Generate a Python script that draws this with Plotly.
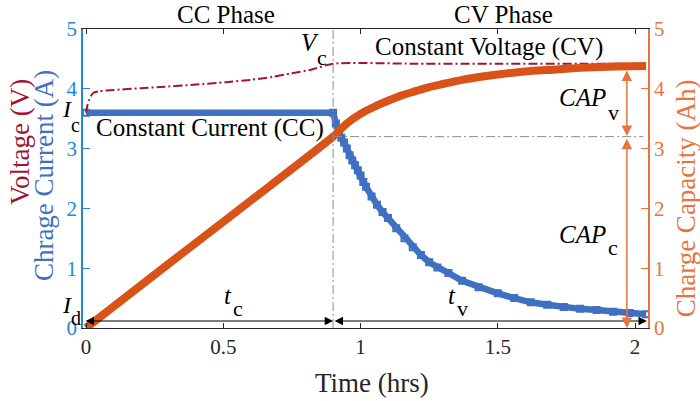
import plotly.graph_objects as go

# ---------------- data ----------------
t_current = [0.00, 0.90, 0.91, 0.92, 0.93, 0.94, 0.95, 0.96, 0.97, 0.98,
             0.99, 1.00, 1.01, 1.02, 1.04, 1.06, 1.08, 1.10, 1.13, 1.16, 1.19, 1.22,
             1.25, 1.28, 1.32, 1.37, 1.43, 1.50, 1.56, 1.62, 1.68, 1.74, 1.80, 1.86,
             1.92, 1.98, 2.04]
current = [3.60, 3.60, 3.42, 3.28, 3.18, 3.10, 3.00, 2.89, 2.80, 2.72,
           2.64, 2.55, 2.44, 2.36, 2.20, 2.06, 1.94, 1.84, 1.67, 1.50, 1.35, 1.22,
           1.10, 1.01, 0.92, 0.79, 0.68, 0.58, 0.50, 0.43, 0.39, 0.35, 0.32, 0.30,
           0.27, 0.25, 0.23]

t_capacity = [0.00, 0.30, 0.60, 0.90, 0.95, 1.00, 1.05, 1.10, 1.15, 1.20, 1.25, 1.30,
              1.37, 1.45, 1.50, 1.60, 1.70, 1.80, 1.90, 2.04]
capacity = [0.00, 1.07, 2.13, 3.20, 3.42, 3.58, 3.70, 3.80, 3.89, 3.96, 4.03, 4.08,
            4.15, 4.21, 4.24, 4.29, 4.32, 4.35, 4.37, 4.38]

t_voltage = [0.000, 0.005, 0.010, 0.018, 0.026, 0.05, 0.10, 0.20, 0.27, 0.40, 0.51,
             0.60, 0.68, 0.75, 0.82, 0.90, 1.20, 1.50, 1.80, 2.04]
voltage = [3.60, 3.72, 3.80, 3.88, 3.93, 3.96, 3.98, 4.01, 4.03, 4.07, 4.11,
           4.15, 4.20, 4.26, 4.32, 4.42, 4.42, 4.42, 4.42, 4.42]

t_switch = 0.9        # end of CC phase
cap_switch = 3.2      # capacity at end of CC phase
cap_end = 4.33        # top of CAP_v arrow
t_cap_arrow = 1.97
x_ticks = [0, 0.5, 1, 1.5, 2]
x_tick_text = ["0", "0.5", "1", "1.5", "2"]
y_ticks = [0, 1, 2, 3, 4, 5]

# ---------------- styles ----------------
FONT = "Liberation Serif, Times New Roman, serif"
BLUE_AX = "#2288D8"
BLUE = "#3F70C2"
ORANGE_AX = "#E8743B"
ORANGE = "#D95319"
RED = "#A2142F"
DARK = "#262626"
GREY = "#8C8C8C"
DASHDOT = "9px,3px,2px,3px"

X0, X1 = -0.011, 2.047
Y0, Y1 = 0, 5

def px(x):
    return (x - X0) / (X1 - X0)

def py(y):
    return (y - Y0) / (Y1 - Y0)

fig = go.Figure()

fig.add_trace(go.Scatter(
    x=t_current, y=current, mode="lines+markers",
    line=dict(color=BLUE, width=6.5),
    marker=dict(symbol="square-open", size=6, color=BLUE, line=dict(width=2, color=BLUE)),
    showlegend=False, yaxis="y"))

fig.add_trace(go.Scatter(
    x=t_voltage, y=voltage, mode="lines",
    line=dict(color=RED, width=2, dash=DASHDOT, shape="spline", smoothing=0.6),
    showlegend=False, yaxis="y"))

fig.add_trace(go.Scatter(
    x=t_capacity, y=capacity, mode="lines",
    line=dict(color=ORANGE, width=8, shape="spline", smoothing=0.6),
    showlegend=False, yaxis="y2"))

# reference lines
fig.add_shape(type="line", x0=t_switch, x1=t_switch, y0=0, y1=5, xref="x", yref="y",
              line=dict(color=GREY, width=1, dash=DASHDOT))
fig.add_shape(type="line", x0=t_switch, x1=2.03, y0=cap_switch, y1=cap_switch,
              xref="x", yref="y", line=dict(color=GREY, width=1, dash=DASHDOT))

ann = []

def txt(x, y, s, size=25, color="black", angle=0, paper=False):
    if not paper:
        x, y = px(x), py(y)
    ann.append(dict(x=x, y=y, xref="paper", yref="paper", text=s, showarrow=False,
                    xanchor="center", yanchor="middle", textangle=angle,
                    font=dict(family=FONT, size=size, color=color)))

def arrow(x, y, ax, ay, color, width, yref="y"):
    ann.append(dict(x=x, y=y, ax=ax, ay=ay, xref="x", yref=yref, axref="x", ayref=yref,
                    text="", showarrow=True, arrowhead=2, startarrowhead=2,
                    arrowside="end+start", arrowsize=1.4, startarrowsize=1.4,
                    arrowwidth=width, arrowcolor=color, standoff=0, startstandoff=0))

# phase labels and texts
txt(0.51, 5.25, "CC Phase")
txt(1.52, 5.25, "CV Phase")
txt(1.468, 4.70, "Constant Voltage (CV)")
txt(0.452, 3.34, "Constant Current (CC)")

# symbols with subscripts
txt(-0.068, 3.67, "<i>I</i>", size=24)
txt(-0.040, 3.39, "c", size=20)
txt(-0.068, 0.38, "<i>I</i>", size=24)
txt(-0.038, 0.17, "d", size=20)
txt(0.816, 4.77, "<i>V</i>")
txt(0.860, 4.52, "c", size=22)
txt(0.517, 0.55, "<i>t</i>")
txt(0.554, 0.33, "c", size=22)
txt(1.333, 0.55, "<i>t</i>")
txt(1.370, 0.33, "v", size=22)
txt(1.81, 3.86, "<i>CAP</i>")
txt(1.92, 3.61, "v", size=22)
txt(1.81, 1.56, "<i>CAP</i>")
txt(1.92, 1.34, "c", size=22)

# axis titles
txt(-0.1115, 0.622, "Voltage (V)", size=27, color=RED, angle=-90, paper=True)
txt(-0.069, 0.508, "Chrage Current (A)", size=27, color=BLUE, angle=-90, paper=True)
txt(1.068, 0.435, "Charge Capacity (Ah)", size=27, color=ORANGE_AX, angle=-90, paper=True)
txt(0.512, -0.184, "Time (hrs)", size=27, color=DARK, paper=True)

# arrows
arrow(t_switch, 0.117, X0 + 0.004, 0.117, "black", 1.2)
arrow(X1 - 0.004, 0.117, t_switch, 0.117, "black", 1.2)
arrow(t_cap_arrow, cap_switch + 0.01, t_cap_arrow, cap_end, ORANGE_AX, 1.5, yref="y2")
arrow(t_cap_arrow, 0.0, t_cap_arrow, cap_switch - 0.01, ORANGE_AX, 1.5, yref="y2")

fig.update_layout(
    width=700, height=401,
    margin=dict(l=83, r=52, t=29, b=73),
    plot_bgcolor="white", paper_bgcolor="white",
    annotations=ann,
    xaxis=dict(range=[X0, X1], tickvals=x_ticks, ticktext=x_tick_text,
               ticks="inside", ticklen=5, tickcolor=DARK, showline=True,
               linecolor=DARK, linewidth=1, mirror="ticks", showgrid=False,
               zeroline=False, tickfont=dict(family=FONT, size=21, color=DARK)),
    yaxis=dict(range=[Y0, Y1], tickvals=y_ticks, ticks="inside", ticklen=7,
               tickcolor=BLUE_AX, showline=True, linecolor=BLUE_AX, linewidth=1.5,
               showgrid=False, zeroline=False,
               tickfont=dict(family=FONT, size=21, color=BLUE_AX)),
    yaxis2=dict(range=[Y0, Y1], tickvals=y_ticks, overlaying="y", side="right",
                ticks="inside", ticklen=7, tickcolor=ORANGE_AX, showline=True,
                linecolor=ORANGE_AX, linewidth=1.5, showgrid=False, zeroline=False,
                tickfont=dict(family=FONT, size=21, color=ORANGE_AX)),
)

fig.write_html("out.html")
